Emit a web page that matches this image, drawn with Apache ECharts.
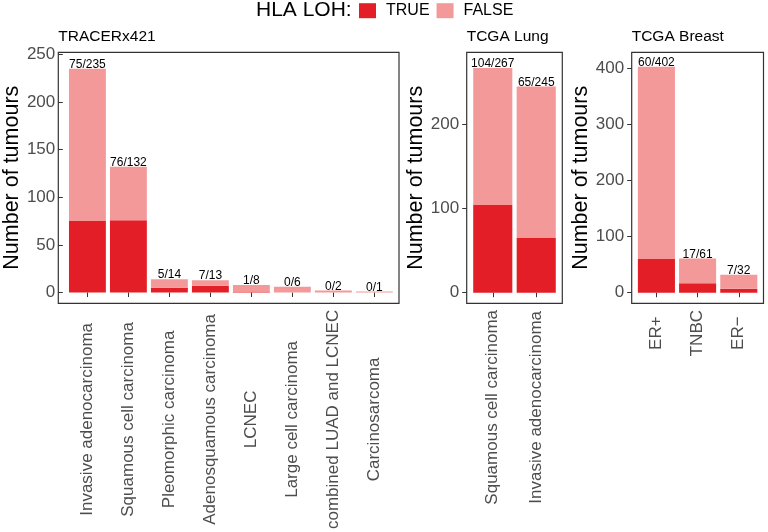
<!DOCTYPE html>
<html><head><meta charset="utf-8">
<script src="https://cdn.jsdelivr.net/npm/echarts@6/dist/echarts.min.js"></script>
<style>html,body{margin:0;padding:0;background:#fff}#c{width:768px;height:532px}</style>
</head><body><div id="c"></div>
<script>
// ---- data ----
const panelTitles = ['TRACERx421', 'TCGA Lung', 'TCGA Breast'];
const cats1 = ['Invasive adenocarcinoma', 'Squamous cell carcinoma', 'Pleomorphic carcinoma', 'Adenosquamous carcinoma', 'LCNEC', 'Large cell carcinoma', 'combined LUAD and LCNEC', 'Carcinosarcoma'];
const loh1 = [75, 76, 5, 7, 1, 0, 0, 0];
const total1 = [235, 132, 14, 13, 8, 6, 2, 1];
const cats2 = ['Squamous cell carcinoma', 'Invasive adenocarcinoma'];
const loh2 = [104, 65];
const total2 = [267, 245];
const cats3 = ['ER+', 'TNBC', 'ER\u2212'];
const loh3 = [60, 17, 7];
const total3 = [402, 61, 32];
const yTicks1 = [0, 50, 100, 150, 200, 250];
const yTicks2 = [0, 100, 200];
const yTicks3 = [0, 100, 200, 300, 400];
const seriesNames = ['TRUE', 'FALSE'];

// ---- layout / style ----
const FONT = '"Liberation Sans", Arial, Helvetica, sans-serif';
const COL_TRUE = '#E31E26', COL_FALSE = '#F4999A';
const BOX_TOP = 52.3, BOX_BOTTOM = 303.3;
const boxes = [{l: 58.3, r: 399}, {l: 466.7, r: 562.3}, {l: 631.7, r: 763.5}];
const yRanges = [[-11.1, 252.3], [-12.6, 285.5], [-18.8, 427.8]];
const panels = [
  {cats: cats1, loh: loh1, total: total1, ticks: yTicks1},
  {cats: cats2, loh: loh2, total: total2, ticks: yTicks2},
  {cats: cats3, loh: loh3, total: total3, ticks: yTicks3}
];

const cv = document.createElement('canvas').getContext('2d');
cv.font = '17px ' + FONT;

const grids = [], xAxes = [], yAxes = [], series = [], titles = [], graphics = [];
panels.forEach((p, k) => {
  const b = boxes[k];
  const n = p.cats.length;
  const unit = (b.r - b.l) / (n + 0.2);
  const inset = 0.1 * unit;
  grids.push({left: b.l + inset, width: (b.r - b.l) - 2 * inset, top: BOX_TOP, height: BOX_BOTTOM - BOX_TOP, containLabel: false});
  const maxW = Math.max(...p.cats.map(c => cv.measureText(c).width));
  xAxes.push({
    type: 'category', gridIndex: k, data: p.cats,
    axisLine: {show: false},
    axisTick: {show: true, alignWithLabel: true, length: 4.5, lineStyle: {color: '#333', width: 1}},
    axisLabel: {interval: 0, rotate: 90, align: 'center', verticalAlign: 'middle', margin: 6.7 + maxW / 2, fontSize: 17, color: '#4D4D4D', fontFamily: FONT}
  });
  yAxes.push({
    type: 'value', gridIndex: k, min: yRanges[k][0], max: yRanges[k][1], offset: inset,
    name: 'Number of tumours', nameLocation: 'middle', nameRotate: 90, nameGap: 37,
    nameTextStyle: {fontSize: 21.5, color: '#000', fontFamily: FONT},
    axisLine: {show: false},
    splitLine: {show: false},
    axisTick: {show: true, length: 4.5, customValues: p.ticks, lineStyle: {color: '#333', width: 1}},
    axisLabel: {customValues: p.ticks, margin: 7.5, fontSize: 17, color: '#4D4D4D', fontFamily: FONT}
  });
  series.push({
    name: seriesNames[0], type: 'bar', stack: 's' + k, xAxisIndex: k, yAxisIndex: k,
    barCategoryGap: '10%', itemStyle: {color: COL_TRUE}, data: p.loh
  });
  series.push({
    name: seriesNames[1], type: 'bar', stack: 's' + k, xAxisIndex: k, yAxisIndex: k,
    barCategoryGap: '10%', itemStyle: {color: COL_FALSE},
    data: p.total.map((t, i) => t - p.loh[i]),
    label: {show: true, position: 'top', distance: -2, fontSize: 12, color: '#000', fontFamily: FONT,
      formatter: (prm) => p.loh[prm.dataIndex] + '/' + p.total[prm.dataIndex]}
  });
  titles.push({text: panelTitles[k], left: b.l, top: 28.5, padding: 0,
    textStyle: {fontSize: 15.5, fontWeight: 'normal', color: '#000', fontFamily: FONT}});
  graphics.push({type: 'rect', z: 100, silent: true,
    shape: {x: b.l, y: BOX_TOP, width: b.r - b.l, height: BOX_BOTTOM - BOX_TOP},
    style: {fill: 'none', stroke: '#333', lineWidth: 1.2}});
});
titles.push({text: 'HLA LOH:', left: 256, top: 0, padding: 0,
  textStyle: {fontSize: 21, fontWeight: 'normal', color: '#000', fontFamily: FONT}});

const chart = echarts.init(document.getElementById('c'), null, {renderer: 'canvas'});
chart.setOption({
  animation: false,
  backgroundColor: '#fff',
  title: titles,
  legend: {
    data: seriesNames, left: 359, top: 2.7, padding: 0, icon: 'rect',
    itemWidth: 17, itemHeight: 15, itemGap: 7,
    textStyle: {fontSize: 16, color: '#000', fontFamily: FONT, padding: [0, 0, 0, 5]}
  },
  grid: grids, xAxis: xAxes, yAxis: yAxes, series: series, graphic: graphics
});
</script></body></html>
